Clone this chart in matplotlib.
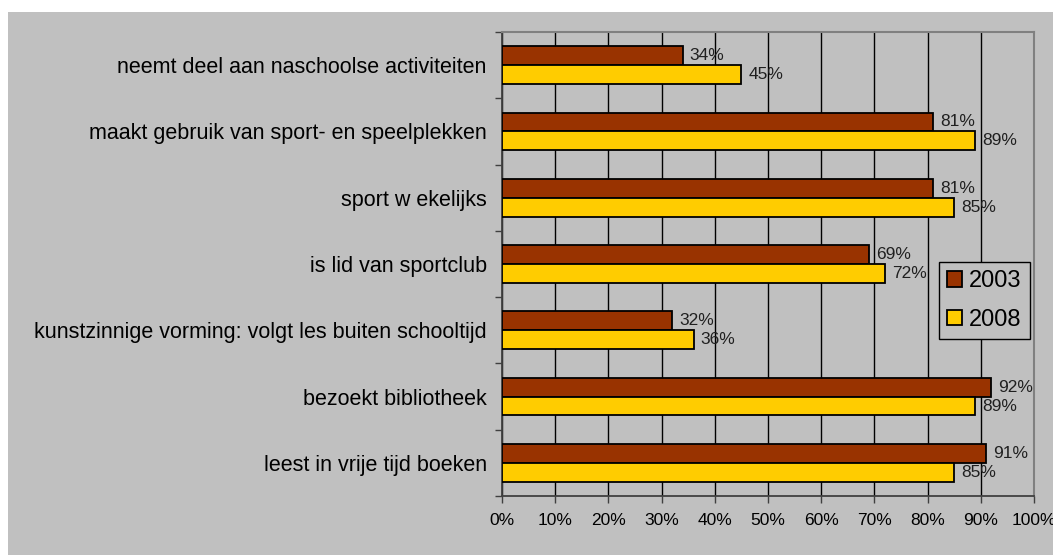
import numpy as np
import matplotlib
matplotlib.use('Agg')
from matplotlib import pyplot as plt
from matplotlib.patches import Rectangle

plt.rcParams['font.family'] = ['Liberation Sans', 'DejaVu Sans']

categories = ['neemt deel aan naschoolse activiteiten',
              'maakt gebruik van sport- en speelplekken',
              'sport w ekelijks',
              'is lid van sportclub',
              'kunstzinnige vorming: volgt les buiten schooltijd',
              'bezoekt bibliotheek',
              'leest in vrije tijd boeken']
v2003 = [34, 81, 81, 69, 32, 92, 91]
v2008 = [45, 89, 85, 72, 36, 89, 85]
series = ['2003', '2008']
colors = ['#993300', '#ffcc00']

fig = plt.figure(figsize=(10.53, 5.55), dpi=100, facecolor='white')
fig.patches.append(Rectangle((8/1053, 0), 1, 1 - 12/555, transform=fig.transFigure,
                             facecolor='#c0c0c0', edgecolor='none', zorder=-10))
ax = fig.add_axes([502/1053, 1 - 496/555, 532/1053, 464/555])
ax.set_facecolor('#c0c0c0')

n = len(categories)
y = np.arange(n)
h = 0.285
for vals, col, off, lab in [(v2003, colors[0], -h/2, series[0]), (v2008, colors[1], h/2, series[1])]:
    bars = ax.barh(y + off, vals, height=h, color=col, edgecolor='black', linewidth=1.3,
                   label=lab, zorder=3)
    for b, v in zip(bars, vals):
        ax.text(v + 1.3, b.get_y() + b.get_height()/2, f'{v}%', va='center', ha='left',
                fontsize=12.5, color='#202020', zorder=4)

ax.set_xlim(0, 100)
ax.set_ylim(n - 0.5, -0.5)
ax.set_xticks(np.arange(0, 101, 10))
ax.set_xticklabels([f'{t}%' for t in range(0, 101, 10)], fontsize=12.5)
ax.xaxis.grid(True, color='black', linewidth=1, zorder=1)
ax.set_axisbelow(True)
ax.tick_params(axis='x', direction='out', length=5, width=1, color='#404040', pad=7)

ax.set_yticks(np.arange(-0.5, n, 1))
ax.set_yticklabels([])
ax.set_yticks(y, minor=True)
ax.set_yticklabels(categories, minor=True, fontsize=15.5)
ax.tick_params(axis='y', which='major', direction='out', length=5, width=1, color='#404040')
ax.tick_params(axis='y', which='minor', length=0, pad=11)

for s in ['left', 'bottom']:
    ax.spines[s].set_color('#404040')
    ax.spines[s].set_linewidth(1.3)
for s in ['top', 'right']:
    ax.spines[s].set_color('#808080')
    ax.spines[s].set_linewidth(1.5)

leg = ax.legend(loc='lower right', bbox_to_anchor=(0.992, 0.338), borderaxespad=0,
                fontsize=17, frameon=True, fancybox=False, handlelength=0.64,
                handleheight=0.64, handletextpad=0.3, labelspacing=0.7,
                borderpad=0.35, facecolor='#c0c0c0', edgecolor='black', framealpha=1)
leg.get_frame().set_linewidth(1)

fig.savefig('out.png', dpi=100, facecolor='white')
